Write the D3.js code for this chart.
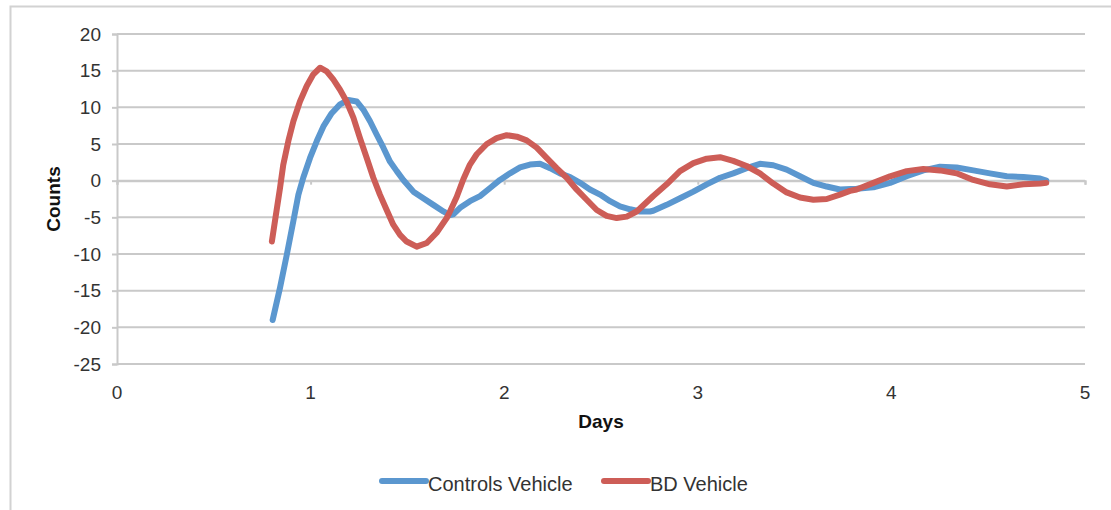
<!DOCTYPE html>
<html>
<head>
<meta charset="utf-8">
<script src="https://cdn.jsdelivr.net/npm/d3@7"></script>
<style>
  html, body { margin: 0; padding: 0; background: #fff; }
  svg { display: block; }
  text { font-family: "Liberation Sans", Arial, Helvetica, sans-serif; fill: #333; }
</style>
</head>
<body>
<svg id="chart" width="1111" height="510"></svg>
<script>
// Circadian activity curves: counts vs. days
const controlDays = [0.804, 0.842, 0.877, 0.911, 0.937, 0.962, 0.997, 1.032, 1.066, 1.109, 1.152, 1.195, 1.238, 1.272, 1.307, 1.341, 1.376, 1.410, 1.445, 1.479, 1.531, 1.582, 1.634, 1.686, 1.720, 1.737, 1.772, 1.823, 1.875, 1.927, 1.978, 2.030, 2.082, 2.133, 2.185, 2.237, 2.288, 2.340, 2.392, 2.443, 2.495, 2.547, 2.598, 2.650, 2.701, 2.753, 2.770, 2.839, 2.908, 2.977, 3.046, 3.115, 3.183, 3.252, 3.321, 3.390, 3.459, 3.528, 3.597, 3.666, 3.734, 3.820, 3.907, 3.993, 4.079, 4.165, 4.251, 4.337, 4.423, 4.509, 4.596, 4.682, 4.768, 4.800];
const controlCounts = [-19.0, -14.6, -10.1, -5.5, -1.9, 0.4, 3.1, 5.4, 7.4, 9.2, 10.4, 11.0, 10.8, 9.7, 8.1, 6.3, 4.5, 2.6, 1.3, 0.1, -1.5, -2.4, -3.3, -4.2, -4.7, -4.6, -3.7, -2.8, -2.1, -1.0, 0.1, 1.0, 1.8, 2.2, 2.3, 1.7, 1.0, 0.5, -0.3, -1.2, -1.9, -2.8, -3.5, -3.9, -4.2, -4.2, -4.1, -3.3, -2.4, -1.5, -0.5, 0.4, 1.0, 1.7, 2.3, 2.1, 1.5, 0.6, -0.3, -0.8, -1.2, -1.1, -0.9, -0.3, 0.6, 1.4, 1.9, 1.8, 1.4, 1.0, 0.6, 0.5, 0.3, 0.0];

const bdDays = [0.800, 0.816, 0.842, 0.859, 0.885, 0.911, 0.945, 0.980, 1.014, 1.049, 1.083, 1.117, 1.152, 1.186, 1.221, 1.255, 1.290, 1.324, 1.358, 1.393, 1.427, 1.462, 1.496, 1.548, 1.600, 1.651, 1.703, 1.720, 1.755, 1.789, 1.823, 1.858, 1.910, 1.961, 2.013, 2.065, 2.116, 2.168, 2.219, 2.271, 2.323, 2.374, 2.426, 2.478, 2.529, 2.581, 2.633, 2.684, 2.701, 2.770, 2.839, 2.908, 2.977, 3.046, 3.115, 3.183, 3.252, 3.321, 3.390, 3.459, 3.528, 3.597, 3.666, 3.734, 3.786, 3.820, 3.907, 3.993, 4.079, 4.165, 4.251, 4.337, 4.423, 4.509, 4.596, 4.682, 4.768, 4.800];
const bdCounts = [-8.3, -5.5, -1.0, 2.2, 5.4, 8.1, 10.8, 12.9, 14.5, 15.4, 14.9, 13.8, 12.4, 10.8, 8.6, 5.8, 3.1, 0.4, -1.9, -4.0, -6.0, -7.4, -8.3, -9.0, -8.5, -7.1, -5.1, -4.2, -2.2, 0.2, 2.2, 3.6, 5.0, 5.8, 6.2, 6.0, 5.5, 4.5, 3.1, 1.7, 0.4, -1.2, -2.6, -4.0, -4.8, -5.1, -4.9, -4.2, -3.8, -2.1, -0.5, 1.3, 2.4, 3.0, 3.2, 2.7, 2.0, 1.0, -0.4, -1.6, -2.3, -2.6, -2.5, -1.9, -1.4, -1.2, -0.3, 0.6, 1.3, 1.6, 1.4, 1.0, 0.1, -0.5, -0.8, -0.5, -0.4, -0.3];

const yTicks = [-25, -20, -15, -10, -5, 0, 5, 10, 15, 20];
const xTicks = [0, 1, 2, 3, 4, 5];
const seriesNames = ["Controls Vehicle", "BD Vehicle"];
const seriesColors = ["#5b97cf", "#cd5d57"];

const svg = d3.select("#chart");
const gridColor = "#c9c9c9";

// outer chart frame
svg.append("rect")
  .attr("x", 10.5).attr("y", 6.5)
  .attr("width", 1130).attr("height", 520)
  .attr("fill", "none").attr("stroke", "#d2d2d2").attr("stroke-width", 2);

const x = d3.scaleLinear().domain([0, 5]).range([117, 1085]);
const y = d3.scaleLinear().domain([-25, 20]).range([364, 34]);

// plain hyphen for negative numbers
const plainNumber = d => String(d);

// horizontal gridlines
svg.append("g")
  .selectAll("line")
  .data(yTicks)
  .join("line")
  .attr("x1", x(0)).attr("x2", x(5))
  .attr("y1", d => y(d)).attr("y2", d => y(d))
  .attr("stroke", gridColor).attr("stroke-width", 2);

// vertical axis with labels
const yAxis = svg.append("g")
  .attr("transform", `translate(${x(0)},0)`)
  .call(d3.axisLeft(y).tickValues(yTicks).tickSize(5).tickPadding(11).tickFormat(plainNumber));
yAxis.select(".domain").attr("stroke", gridColor).attr("stroke-width", 2);
yAxis.selectAll(".tick line").attr("stroke", gridColor).attr("stroke-width", 2);
yAxis.selectAll(".tick text")
  .style("font-family", '"Liberation Sans", Arial, sans-serif')
  .style("font-size", "19px").attr("fill", "#333");

// horizontal axis line sits at zero; labels sit below the plot
const xAxis = svg.append("g")
  .attr("transform", `translate(0,${y(0)})`)
  .call(d3.axisBottom(x).tickValues(xTicks).tickSize(4).tickFormat(""));
xAxis.select(".domain").attr("stroke", gridColor).attr("stroke-width", 2);
xAxis.selectAll(".tick line").attr("stroke", gridColor).attr("stroke-width", 2);

svg.append("g")
  .selectAll("text")
  .data(xTicks)
  .join("text")
  .attr("x", d => x(d)).attr("y", 399)
  .attr("text-anchor", "middle")
  .style("font-size", "19px")
  .text(plainNumber);

// axis titles
svg.append("text")
  .attr("x", x(2.5)).attr("y", 428)
  .attr("text-anchor", "middle")
  .style("font-size", "19px").style("font-weight", "bold").style("fill", "#111")
  .text("Days");

svg.append("text")
  .attr("transform", `translate(60,${y(-2.5)}) rotate(-90)`)
  .attr("text-anchor", "middle")
  .style("font-size", "19px").style("font-weight", "bold").style("fill", "#111")
  .text("Counts");

// data lines
const line = d3.line()
  .x(d => x(d[0]))
  .y(d => y(d[1]));

const series = [
  d3.zip(controlDays, controlCounts),
  d3.zip(bdDays, bdCounts)
];

series.forEach((pts, i) => {
  svg.append("path")
    .datum(pts)
    .attr("fill", "none")
    .attr("stroke", seriesColors[i])
    .attr("stroke-width", 6)
    .attr("stroke-linejoin", "round")
    .attr("stroke-linecap", "round")
    .attr("d", line);
});

// legend
const legendX = [382, 604];
const legend = svg.append("g");
seriesNames.forEach((name, i) => {
  legend.append("line")
    .attr("x1", legendX[i]).attr("x2", legendX[i] + 44)
    .attr("y1", 481).attr("y2", 481)
    .attr("stroke", seriesColors[i]).attr("stroke-width", 6)
    .attr("stroke-linecap", "round");
  legend.append("text")
    .attr("x", legendX[i] + 46).attr("y", 491)
    .style("font-size", "20px")
    .text(name);
});
</script>
</body>
</html>
